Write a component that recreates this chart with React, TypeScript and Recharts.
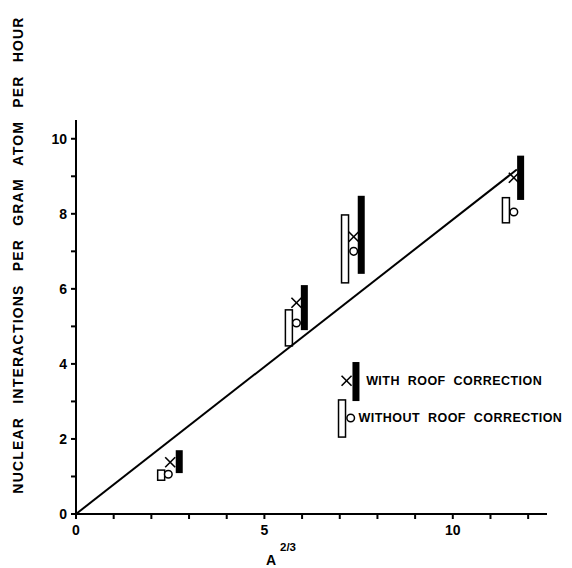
import { ScatterChart, Scatter, XAxis, YAxis, ReferenceArea } from 'recharts';

// A^(2/3) of each absorber and the measured rates
const withX = [2.5, 5.85, 7.37, 11.62];
const withRate = [1.38, 5.63, 7.39, 8.96];
const withBarX = [2.74, 6.06, 7.57, 11.8];
const withLow = [1.09, 4.9, 6.4, 8.37];
const withHigh = [1.7, 6.1, 8.48, 9.55];

const withoutX = [2.45, 5.85, 7.37, 11.62];
const withoutRate = [1.06, 5.09, 7.0, 8.05];
const withoutBarX = [2.26, 5.65, 7.14, 11.41];
const withoutLow = [0.9, 4.48, 6.16, 7.76];
const withoutHigh = [1.17, 5.44, 7.97, 8.43];

const fitX = [0, 11.7];
const fitY = [0, 9.18];

const xTicks = [0, 1, 2, 3, 4, 5, 6, 7, 8, 9, 10, 11, 12];
const yTicks = [0, 1, 2, 3, 4, 5, 6, 7, 8, 9, 10];

// legend, drawn in data space like the figure
const legendLabels = ['WITH ROOF CORRECTION', 'WITHOUT ROOF CORRECTION'];
const legendMarkX = [7.18, 7.29];
const legendMarkY = [3.55, 2.56];
const legendBarX = [7.43, 7.06];
const legendLow = [3.01, 2.05];
const legendHigh = [4.05, 3.04];
const legendTextX = [7.7, 7.5];

const FONT = '"Liberation Sans", Arial, sans-serif';

const withPts = withX.map((x, i) => ({ x, y: withRate[i] }));
const withoutPts = withoutX.map((x, i) => ({ x, y: withoutRate[i] }));
const fitPts = fitX.map((x, i) => ({ x, y: fitY[i] }));
const legendCross = [{ x: legendMarkX[0], y: legendMarkY[0] }];
const legendCircle = [{ x: legendMarkX[1], y: legendMarkY[1] }];
const legendText = legendLabels.map((label, i) => ({ x: legendTextX[i], y: legendMarkY[i], label }));

const CrossShape = (p: any) => (
  <g stroke="#000" strokeWidth={1.6}>
    <line x1={p.cx - 5} y1={p.cy - 5} x2={p.cx + 5} y2={p.cy + 5} />
    <line x1={p.cx - 5} y1={p.cy + 5} x2={p.cx + 5} y2={p.cy - 5} />
  </g>
);

const CircleShape = (p: any) => (
  <circle cx={p.cx} cy={p.cy} r={3.8} fill="#fff" stroke="#000" strokeWidth={1.5} />
);

const TextShape = (p: any) => (
  <text x={p.cx} y={p.cy} dy="0.36em" fontFamily={FONT} fontWeight="bold" fontSize={12.5} letterSpacing={0.45} wordSpacing={4} fill="#000">
    {p.payload.label}
  </text>
);

const filledBar = (p: any) => (
  <rect x={p.x - 3.5} y={p.y} width={7} height={p.height} fill="#000" />
);

const openBar = (p: any) => (
  <rect x={p.x - 3.5} y={p.y} width={7} height={p.height} fill="#fff" stroke="#000" strokeWidth={1.5} />
);

const YTitle = () => (
  <text
    x={23}
    y={255}
    transform="rotate(-90 23 255)"
    textAnchor="middle"
    fontFamily={FONT}
    fontWeight="bold"
    fontSize={14}
    letterSpacing={1.2}
    wordSpacing={8}
    fill="#000"
  >
    NUCLEAR INTERACTIONS PER GRAM ATOM PER HOUR
  </text>
);

const XTitle = () => (
  <g fontFamily={FONT} fontWeight="bold" fill="#000">
    <text x={271} y={565} textAnchor="middle" fontSize={14}>A</text>
    <text x={288} y={551} textAnchor="middle" fontSize={11.5}>2/3</text>
  </g>
);

export default function App() {
  const tickStyle = { fontFamily: FONT, fontWeight: 'bold', fontSize: 14, fill: '#000' };
  return (
    <div style={{ position: 'absolute', left: 0, top: 0, width: 572, height: 568, background: '#fff' }}>
      <ScatterChart width={572} height={568} margin={{ top: 120, right: 25, bottom: 24, left: 0 }}>
        <XAxis
          type="number"
          dataKey="x"
          domain={[0, 12.5]}
          ticks={xTicks}
          tickFormatter={(v: number) => (v % 5 === 0 ? String(v) : '')}
          stroke="#000"
          strokeWidth={2}
          tickSize={5}
          tickMargin={6}
          height={30}
          tick={tickStyle}
          label={<XTitle />}
        />
        <YAxis
          type="number"
          dataKey="y"
          domain={[0, 10.5]}
          ticks={yTicks}
          tickFormatter={(v: number) => (v % 2 === 0 ? String(v) : '')}
          stroke="#000"
          strokeWidth={2}
          tickSize={5}
          tickMargin={4}
          width={76}
          tick={tickStyle}
          label={<YTitle />}
        />
        {withoutBarX.map((x, i) => (
          <ReferenceArea key={'wo' + i} x1={x} x2={x} y1={withoutLow[i]} y2={withoutHigh[i]} ifOverflow="visible" shape={openBar} />
        ))}
        {withBarX.map((x, i) => (
          <ReferenceArea key={'w' + i} x1={x} x2={x} y1={withLow[i]} y2={withHigh[i]} ifOverflow="visible" shape={filledBar} />
        ))}
        <ReferenceArea x1={legendBarX[0]} x2={legendBarX[0]} y1={legendLow[0]} y2={legendHigh[0]} ifOverflow="visible" shape={filledBar} />
        <ReferenceArea x1={legendBarX[1]} x2={legendBarX[1]} y1={legendLow[1]} y2={legendHigh[1]} ifOverflow="visible" shape={openBar} />
        <Scatter data={fitPts} line={{ stroke: '#000', strokeWidth: 2 }} lineType="joint" shape={() => <g />} isAnimationActive={false} />
        <Scatter data={withoutPts} shape={CircleShape} isAnimationActive={false} />
        <Scatter data={withPts} shape={CrossShape} isAnimationActive={false} />
        <Scatter data={legendCross} shape={CrossShape} isAnimationActive={false} />
        <Scatter data={legendCircle} shape={CircleShape} isAnimationActive={false} />
        <Scatter data={legendText} shape={TextShape} isAnimationActive={false} />
      </ScatterChart>
    </div>
  );
}
